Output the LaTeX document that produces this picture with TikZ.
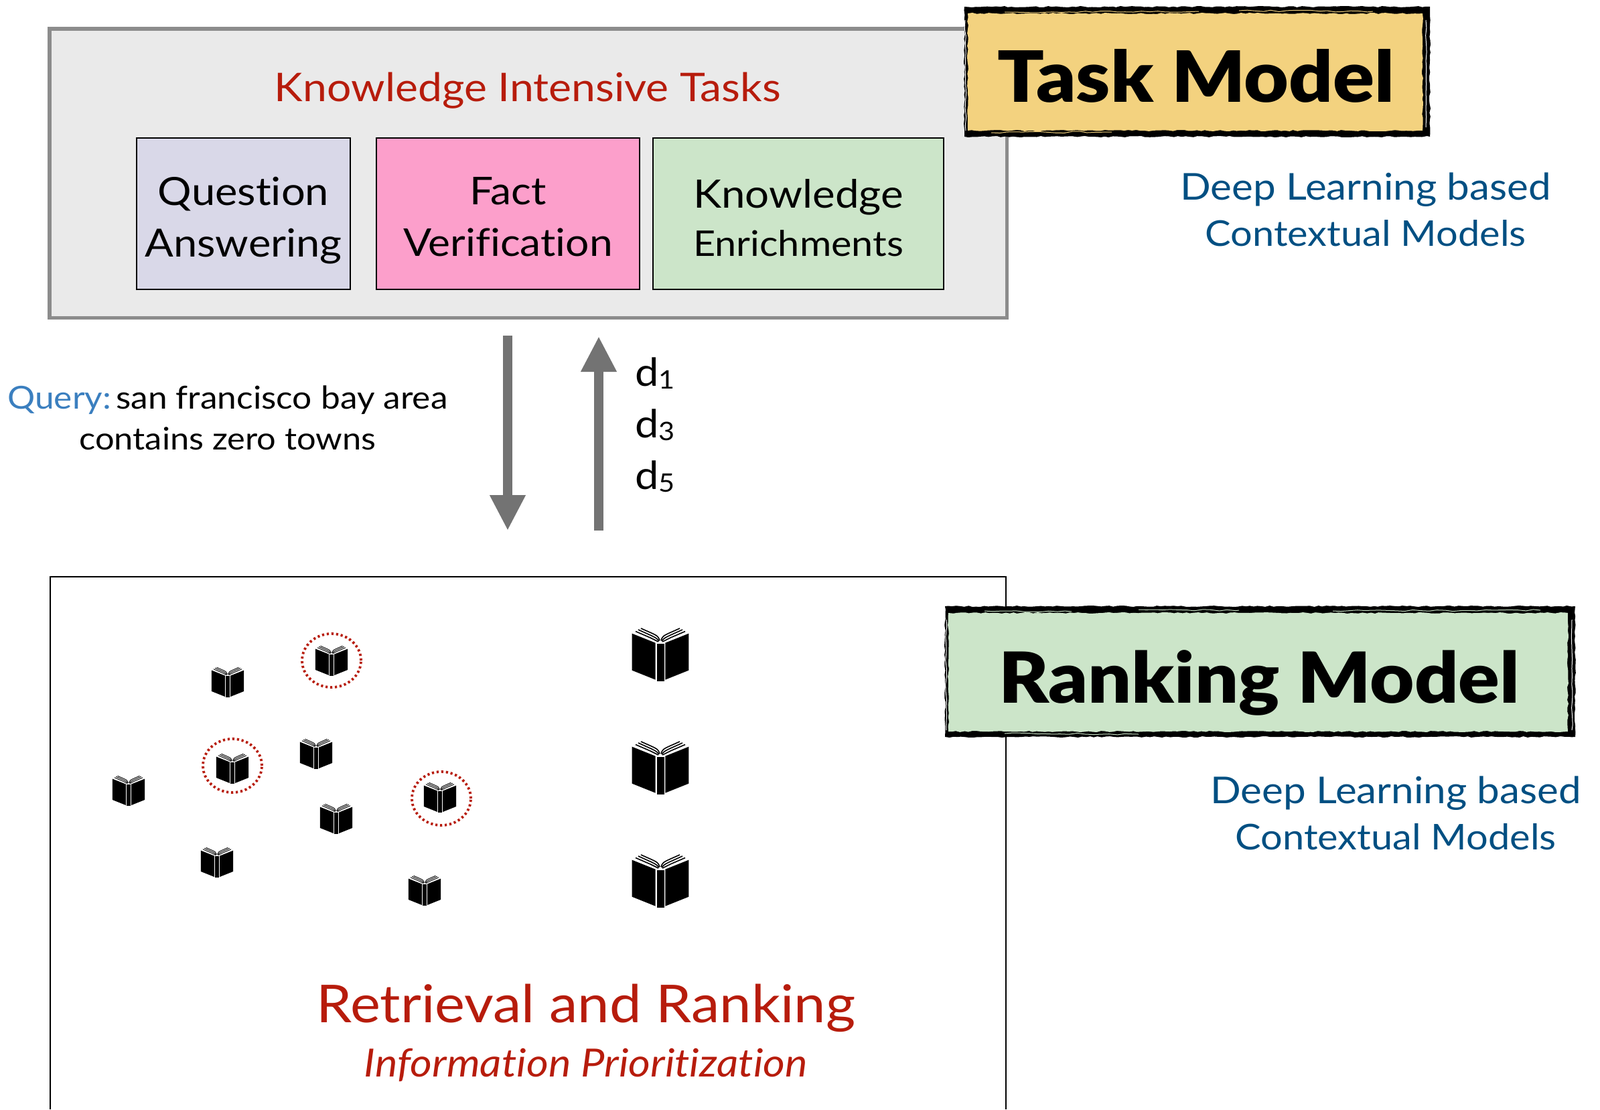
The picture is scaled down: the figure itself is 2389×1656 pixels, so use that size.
\documentclass[tikz,border=0pt]{standalone}
\usepackage{fontspec}
\setmainfont{Lato}[BoldFont=* Black,FakeStretch=1.09,Ligatures=NoCommon]
\usetikzlibrary{arrows.meta,decorations.pathmorphing,shapes.geometric}
\definecolor{redtxt}{HTML}{B71C0C}
\definecolor{bluetxt}{HTML}{004F82}
\definecolor{querybl}{HTML}{3B7FBF}
\definecolor{arrgray}{HTML}{737373}
\definecolor{boxgray}{HTML}{8C8C8C}
\definecolor{panel}{HTML}{EAEAEA}
\definecolor{lilac}{HTML}{D9D8E8}
\definecolor{pinkbox}{HTML}{FC9FCB}
\definecolor{greenbox}{HTML}{CCE5C9}
\definecolor{sand}{HTML}{F3D27F}
\newcommand{\fs}[2]{\fontsize{#1}{#2}\selectfont}
\newcommand{\sbs}[1]{\raisebox{-2pt}{\fontsize{19}{19}\selectfont #1}}
\tikzset{
  x=.5pt,y=-.5pt,
  inner/.style={draw=black,line width=1.25pt,inner sep=0pt},
  boxtext/.style={inner sep=0pt,align=center},
  redlabel/.style={text=redtxt,inner sep=0pt,align=center},
  bluelabel/.style={text=bluetxt,inner sep=0pt,align=center,font=\fs{26.5}{34.5}},
  plainlabel/.style={inner sep=0pt,align=center},
  fatarrow/.style={draw=arrgray,line width=6.8pt,-{Triangle[length=26.5pt,width=25pt]}},
  ring/.style={draw=redtxt,line width=1.9pt,dash pattern=on 1.6pt off 1.9pt,ellipse,inner sep=0pt,minimum width=44pt,minimum height=40pt},
  rough/.style={decorate,decoration={random steps,segment length=3pt,amplitude=.5pt}},
  streak/.style={line width=.5pt,decorate,decoration={random steps,segment length=6pt,amplitude=.6pt}},
  pics/bookicon/.style={code={
    \fill (-42.3,-32.3) -- (-7.3,-18.3) -- (-7.3,36.7) -- (-42.3,22.7) -- cycle;
    \fill (42.3,-32.3) -- (7.3,-18.3) -- (7.3,36.7) -- (42.3,22.7) -- cycle;
    \fill (-5.5,-17.5) rectangle (5.5,39.3);
    \draw (-37,-35.5) -- (-15,-26) .. controls (-9,-23) and (-7,-22) .. (-3,-20);
    \draw (-33,-38) -- (-13,-29) .. controls (-7,-26) and (-5,-25) .. (-2,-21);
    \draw (-29,-40) -- (-11,-32) .. controls (-5,-29) and (-3,-28) .. (-1,-22);
    \draw (37,-35.5) -- (15,-26) .. controls (9,-23) and (7,-22) .. (3,-20);
    \draw (33,-38) -- (13,-29) .. controls (7,-26) and (5,-25) .. (2,-21);
    \draw (29,-40) -- (11,-32) .. controls (5,-29) and (3,-28) .. (1,-22);
  }},
  small/.style={scale=.57,line width=.45pt},
  large/.style={line width=.8pt},
}
\begin{document}
\begin{tikzpicture}
\useasboundingbox (0,0) rectangle (2389,1656);
% top panel
\node[draw=boxgray,fill=panel,line width=2.7pt,minimum width=714.75pt,minimum height=215.75pt,inner sep=0pt] (panel) at (788.75,258.75) {};
\node[redlabel,font=\fs{29.5}{35}] (kit) at (788,135) {Knowledge Intensive Tasks};
\node[inner,fill=lilac,minimum width=159.5pt,minimum height=113pt] (qa) at (363.5,319) {};
\node[boxtext,font=\fs{29}{38.5}] (qat) at (363.5,329) {Question\\Answering};
\node[inner,fill=pinkbox,minimum width=196.5pt,minimum height=113pt] (fv) at (758.5,319) {};
\node[boxtext,font=\fs{28.6}{38.5}] (fvt) at (758.5,324) {Fact\\Verification};
\node[inner,fill=greenbox,minimum width=217pt,minimum height=113pt] (ke) at (1192,319) {};
\node[boxtext,font=\fs{26.4}{36}] (ket) at (1192,325) {{\fs{29.2}{36}Knowledge}\\Enrichments};
% task model
\fill[rough] (1440,10) rectangle (2135,204);
\node[fill=sand,rough,minimum width=339.5pt,minimum height=87.5pt,inner sep=0pt] (task) at (1784.5,107.5) {};
\node[inner sep=0pt,font=\bfseries\fs{52.8}{60}] (taskt) at (1786,113) {Task Model};
\draw[sand,streak] (1500,18) -- (1790,17);
\draw[sand,streak] (1850,16) -- (2050,17);
\draw[sand,streak] (1480,198) -- (1660,197);
\draw[white,streak] (1441,30) -- (1442,195);
\draw[white,streak] (2129,30) -- (2129,190);
\node[bluelabel] (deep1) at (2039,313) {{\fs{27.6}{34.5}Deep Learning based}\\Contextual Models};
% arrows
\coordinate (a1s) at (758,501);
\coordinate (a1e) at (758,792);
\coordinate (a2s) at (894,792);
\coordinate (a2e) at (894,502);
\draw[fatarrow] (a1s) -- (a1e);
\draw[fatarrow] (a2s) -- (a2e);
\node[plainlabel,font=\fs{23.2}{30.5}] (query) at (340,624) {{\fs{23.6}{30.5}\textcolor{querybl}{Query:}\hspace{3.5pt}san francisco bay area}\\contains zero towns};
\node[plainlabel,anchor=west,font=\fs{29}{30}] (d1) at (948,557) {d\sbs{1}};
\node[plainlabel,anchor=west,font=\fs{29}{30}] (d3) at (948,634) {d\sbs{3}};
\node[plainlabel,anchor=west,font=\fs{29}{30}] (d5) at (948,711) {d\sbs{5}};
% bottom panel
\coordinate (bl) at (75,1656);
\coordinate (tl) at (75,861);
\coordinate (tr) at (1502,861);
\coordinate (br) at (1502,1656);
\draw[line width=1.2pt] (bl) -- (tl) -- (tr) -- (br);
% ranking model
\fill[rough] (1411,905) rectangle (2352,1100);
\node[fill=greenbox,rough,minimum width=462.5pt,minimum height=88.5pt,inner sep=0pt] (rank) at (1878.5,1003.5) {};
\node[inner sep=0pt,font=\bfseries\fs{52.5}{60}] (rankt) at (1880,1019) {Ranking Model};
\draw[greenbox,streak] (1470,912) -- (1600,913);
\draw[greenbox,streak] (1700,910) -- (1850,911);
\draw[greenbox,streak] (1990,912) -- (2300,911);
\draw[greenbox,streak] (1500,1095) -- (1700,1096);
\draw[white,streak] (1413,925) -- (1413,1090);
\draw[white,streak] (2347,925) -- (2347,1090);
\node[bluelabel] (deep2) at (2084,1214) {{\fs{27.6}{34.5}Deep Learning based}\\Contextual Models};
% books
\pic[small] at (340,1019) {bookicon};
\pic[small] at (495,987) {bookicon};
\pic[small] at (347,1148) {bookicon};
\pic[small] at (472,1126) {bookicon};
\pic[small] at (192,1181) {bookicon};
\pic[small] at (502,1223) {bookicon};
\pic[small] at (657,1191) {bookicon};
\pic[small] at (324,1288) {bookicon};
\pic[small] at (634,1330) {bookicon};
\pic[large] at (986,978) {bookicon};
\pic[large] at (986,1147) {bookicon};
\pic[large] at (986,1316) {bookicon};
\node[ring] (r1) at (495,986) {};
\node[ring] (r2) at (347,1143) {};
\node[ring] (r3) at (659,1192) {};
\node[redlabel,font=\fs{39}{45}] (rr) at (875,1505) {Retrieval and Ranking};
\node[redlabel,font=\itshape\fs{29}{32}] (ip) at (875,1590) {Information Prioritization};
\end{tikzpicture}
\end{document}
